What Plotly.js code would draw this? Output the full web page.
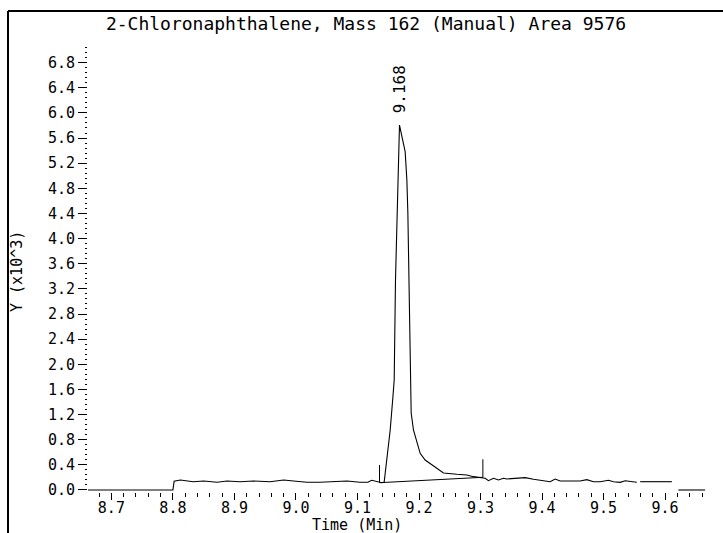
<!DOCTYPE html>
<html>
<head>
<meta charset="utf-8">
<script src="https://cdn.plot.ly/plotly-3.0.1.min.js"></script>
<style>html,body{margin:0;padding:0;background:#fff;}#chart{width:723px;height:533px;}</style>
</head>
<body>
<div id="chart"></div>
<script>
// Time (min)
const timeMin = [8.662, 8.700, 8.750, 8.800, 8.802, 8.812, 8.833, 8.850, 8.872, 8.888, 8.909, 8.931, 8.958, 8.980, 8.996,
  9.018, 9.039, 9.061, 9.083, 9.104, 9.117, 9.123, 9.131, 9.140,
  9.1434, 9.1478, 9.1532, 9.1576, 9.1597, 9.1618, 9.1629, 9.1650, 9.1667, 9.1683,
  9.1775, 9.1803, 9.1819, 9.1829, 9.1840, 9.1857, 9.1873, 9.1910, 9.1966, 9.2019, 9.2100, 9.2209, 9.2291, 9.2398,
  9.2616, 9.2778, 9.2885, 9.2994, 9.3076, 9.3129, 9.3211, 9.3292, 9.3373, 9.3428, 9.3591, 9.3726, 9.3861, 9.4023,
  9.4132, 9.4213, 9.4295, 9.4457, 9.4620, 9.4728, 9.4836, 9.4944, 9.5079, 9.5161, 9.5270, 9.5351, 9.5432, 9.5541,
  9.557, 9.5595, 9.6110, 9.616, 9.6217, 9.6651];
// Abundance (x10^3)
const abundance = [0, 0, 0, 0, 0.14, 0.159, 0.132, 0.143, 0.122, 0.143, 0.132, 0.143, 0.132, 0.159, 0.143,
  0.122, 0.122, 0.132, 0.143, 0.122, 0.122, 0.154, 0.132, 0.116,
  0.127, 0.477, 0.955, 1.480, 1.750, 3.341, 3.707, 4.407, 5.298, 5.807,
  5.383, 4.932, 4.407, 3.707, 3.341, 1.750, 1.225, 0.955, 0.743, 0.584, 0.477, 0.398, 0.345, 0.270,
  0.250, 0.239, 0.212, 0.202, 0.186, 0.148, 0.186, 0.159, 0.186, 0.175, 0.186, 0.196, 0.170, 0.148,
  0.132, 0.175, 0.143, 0.143, 0.143, 0.164, 0.132, 0.132, 0.154, 0.132, 0.122, 0.148, 0.132, 0.122,
  null, 0.132, 0.132, null, 0, 0];
// Integration baseline and start/end markers
const baseX = [9.1358, 9.3038];
const baseY = [0.116, 0.202];
const startMarkX = [9.1358, 9.1358];
const startMarkY = [0.116, 0.398];
const endMarkX = [9.3038, 9.3038];
const endMarkY = [0.202, 0.488];
const peakTime = 9.168;
const peakHeight = 5.807;
const peakLabel = "9.168";
const chartTitle = "2-Chloronaphthalene, Mass 162 (Manual) Area 9576";
const xTitle = "Time (Min)";
const yTitle = "Y (x10^3)";

const F = "DejaVu Sans Mono, monospace";
const lineStyle = {color: "#000", width: 1.1};

const traces = [
  {x: timeMin, y: abundance, type: "scatter", mode: "lines", line: lineStyle, connectgaps: false, hoverinfo: "skip"},
  {x: baseX, y: baseY, type: "scatter", mode: "lines", line: {color: "#000", width: 1}, hoverinfo: "skip"},
  {x: startMarkX, y: startMarkY, type: "scatter", mode: "lines", line: {color: "#000", width: 1}, hoverinfo: "skip"},
  {x: endMarkX, y: endMarkY, type: "scatter", mode: "lines", line: {color: "#000", width: 1}, hoverinfo: "skip"}
];

const layout = {
  width: 723, height: 533,
  margin: {l: 88, r: 13, t: 43, b: 41},
  paper_bgcolor: "#fff", plot_bgcolor: "#fff",
  showlegend: false,
  font: {family: F, size: 15, color: "#000"},
  title: {text: chartTitle, font: {family: F, size: 18, color: "#000"},
          xref: "container", yref: "container", x: 366/723, y: 1 - 24/533, xanchor: "center", yanchor: "middle"},
  xaxis: {
    range: [8.662, 9.673], tick0: 8.7, dtick: 0.1, tickformat: ".1f",
    showgrid: false, zeroline: false, showline: false,
    ticks: "outside", ticklen: 7, tickwidth: 1, tickcolor: "#000", ticklabelstandoff: -5,
    minor: {dtick: 0.02, tick0: 8.7, ticks: "outside", ticklen: 4, tickwidth: 1, tickcolor: "#000", showgrid: false},
    tickfont: {family: F, size: 15, color: "#000"}
  },
  yaxis: {
    range: [-0.032, 7.112], tick0: 0, dtick: 0.4, tickformat: ".1f",
    showgrid: false, zeroline: false, showline: false,
    ticks: "outside", ticklen: 9, tickwidth: 1, tickcolor: "#000",
    minor: {dtick: 0.08, tick0: 0, ticks: "outside", ticklen: 2, tickwidth: 1, tickcolor: "#000", showgrid: false},
    tickfont: {family: F, size: 15, color: "#000"}
  },
  annotations: [
    {x: peakTime, y: peakHeight, xref: "x", yref: "y", text: peakLabel, showarrow: false,
     textangle: -90, xanchor: "center", yanchor: "bottom", yshift: 10, font: {family: F, size: 16, color: "#000"}},
    {x: (357 - 88) / 622, y: (492 - 525) / 449, xref: "paper", yref: "paper", text: xTitle, showarrow: false,
     xanchor: "center", yanchor: "middle", font: {family: F, size: 15, color: "#000"}},
    {x: (17 - 88) / 622, y: (492 - 272) / 449, xref: "paper", yref: "paper", text: yTitle, showarrow: false,
     textangle: -90, xanchor: "center", yanchor: "middle", font: {family: F, size: 15, color: "#000"}}
  ],
  shapes: [
    {type: "line", xref: "paper", yref: "paper", x0: (8 - 88) / 622, x1: (723 - 88) / 622,
     y0: (492 - 11) / 449, y1: (492 - 11) / 449, line: {color: "#000", width: 2}},
    {type: "line", xref: "paper", yref: "paper", x0: (8 - 88) / 622, x1: (8 - 88) / 622,
     y0: (492 - 11) / 449, y1: (492 - 533) / 449, line: {color: "#000", width: 2}}
  ]
};

Plotly.newPlot("chart", traces, layout, {staticPlot: true, displayModeBar: false});
</script>
</body>
</html>
